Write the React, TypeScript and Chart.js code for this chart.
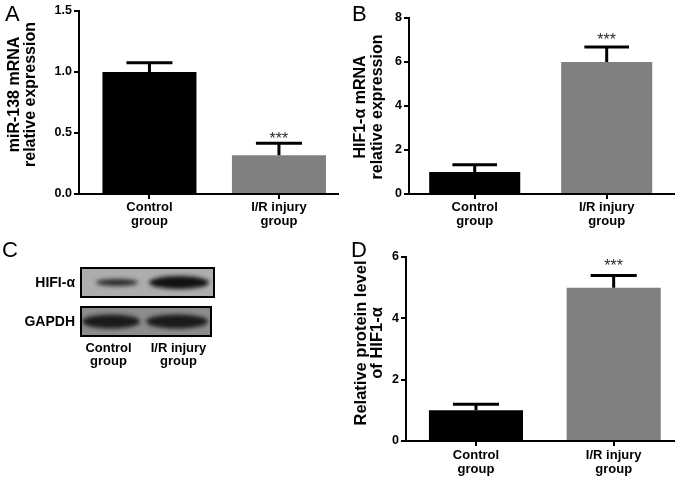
import React, { useEffect, useRef } from 'react';
import { Chart, registerables } from 'chart.js';

Chart.register(...registerables);

// ---------------- data ----------------
const categories: string[][] = [['Control', 'group'], ['I/R injury', 'group']];
const barColors = ['#000000', '#808080'];
const significance = ['', '***'];

// Panel A: miR-138 mRNA relative expression
const mirValues = [1.0, 0.317];
const mirErrors = [0.076, 0.1];
const mirTicks = [0, 0.5, 1.0, 1.5];

// Panel B: HIF1-α mRNA relative expression
const hifMrnaValues = [1.0, 6.0];
const hifMrnaErrors = [0.33, 0.68];
const hifMrnaTicks = [0, 2, 4, 6, 8];

// Panel D: relative protein level of HIF1-α
const proteinValues = [1.0, 5.0];
const proteinErrors = [0.2, 0.4];
const proteinTicks = [0, 2, 4, 6];

// Panel C: western blot rows
const blotRows = ['HIFI-α', 'GAPDH'];

const FONT = '"Liberation Sans", Arial, sans-serif';

// ---------------- plugins ----------------
const errorBarsPlugin = {
  id: 'errorBars',
  afterDatasetsDraw(chart: any, _args: any, opts: any) {
    const { ctx } = chart;
    const meta = chart.getDatasetMeta(0);
    const ys = chart.scales.y;
    ctx.save();
    meta.data.forEach((bar: any, i: number) => {
      const v = opts.values[i];
      const e = opts.errors[i];
      const top = ys.getPixelForValue(v);
      const end = ys.getPixelForValue(v + e);
      const w = bar.width * 0.49;
      ctx.strokeStyle = '#000';
      ctx.lineWidth = 3;
      ctx.lineCap = 'butt';
      ctx.beginPath();
      ctx.moveTo(bar.x, top);
      ctx.lineTo(bar.x, end);
      ctx.moveTo(bar.x - w / 2, end);
      ctx.lineTo(bar.x + w / 2, end);
      ctx.stroke();
      const lab = opts.labels[i];
      if (lab) {
        ctx.fillStyle = '#2b2b2b';
        ctx.font = `16px ${FONT}`;
        ctx.textAlign = 'center';
        ctx.textBaseline = 'alphabetic';
        ctx.fillText(lab, bar.x, end - opts.labelGap + 1);
      }
    });
    ctx.restore();
  },
};

const yTitlePlugin = {
  id: 'yTitle',
  afterDraw(chart: any, _args: any, opts: any) {
    const { ctx, chartArea } = chart;
    ctx.save();
    ctx.fillStyle = '#000';
    ctx.font = `bold ${opts.size}px ${FONT}`;
    ctx.textAlign = 'center';
    ctx.textBaseline = 'middle';
    opts.lines.forEach((line: string, i: number) => {
      ctx.save();
      ctx.translate(opts.x + i * opts.lineHeight, (chartArea.top + chartArea.bottom) / 2 + opts.dy);
      ctx.rotate(-Math.PI / 2);
      ctx.fillText(line, 0, 0);
      ctx.restore();
    });
    ctx.restore();
  },
};

interface PanelSpec {
  values: number[];
  errors: number[];
  ticks: number[];
  decimals: number;
  title: string[];
  titleX: number;
  titleDy: number;
  titleSize: number;
  yWidth: number;
  xHeight: number;
  padTop: number;
  padRight: number;
  xMin: number;
  xMax: number;
  barPct: number;
  labelGap: number;
  xLabelPad: number;
}

function makeConfig(p: PanelSpec): any {
  return {
    type: 'bar',
    data: {
      datasets: [
        {
          data: p.values.map((v, i) => ({ x: i, y: v })),
          backgroundColor: barColors,
          borderWidth: 0,
          barPercentage: p.barPct,
          categoryPercentage: 1,
        },
      ],
    },
    options: {
      responsive: false,
      animation: false,
      devicePixelRatio: 1,
      layout: { padding: { left: 0, top: p.padTop, right: p.padRight, bottom: 0 } },
      plugins: {
        legend: { display: false },
        tooltip: { enabled: false },
        errorBars: { values: p.values, errors: p.errors, labels: significance, labelGap: p.labelGap },
        yTitle: { lines: p.title, x: p.titleX, dy: p.titleDy, size: p.titleSize, lineHeight: 16.5 },
      },
      scales: {
        x: {
          type: 'linear',
          offset: false,
          min: p.xMin,
          max: p.xMax,
          afterBuildTicks: (s: any) => {
            s.ticks = categories.map((_, i) => ({ value: i }));
          },
          afterFit: (s: any) => {
            s.height = p.xHeight;
            s.paddingLeft = 0;
            s.paddingRight = 0;
          },
          border: { display: true, color: '#000', width: 2 },
          grid: { display: true, offset: false, drawOnChartArea: false, drawTicks: true, tickLength: 5, color: '#000', lineWidth: 2 },
          ticks: {
            color: '#000',
            font: { family: FONT, weight: 'bold', size: 13, lineHeight: 1.05 },
            padding: p.xLabelPad,
            maxRotation: 0,
            autoSkip: false,
            callback: (_v: any, i: number) => categories[i],
          },
        },
        y: {
          type: 'linear',
          min: p.ticks[0],
          max: p.ticks[p.ticks.length - 1],
          afterBuildTicks: (s: any) => {
            s.ticks = p.ticks.map((v) => ({ value: v }));
          },
          afterFit: (s: any) => {
            s.width = p.yWidth;
            s.paddingTop = 0;
            s.paddingBottom = 0;
          },
          border: { display: true, color: '#000', width: 2 },
          grid: { display: true, drawOnChartArea: false, drawTicks: true, tickLength: 5, color: '#000', lineWidth: 2 },
          ticks: {
            color: '#000',
            font: { family: FONT, weight: 'bold', size: 12.5 },
            padding: 2,
            callback: (v: any) => Number(v).toFixed(p.decimals),
          },
        },
      },
    },
    plugins: [errorBarsPlugin, yTitlePlugin],
  };
}

function BarPanel({ spec, left, top, width, height }: { spec: PanelSpec; left: number; top: number; width: number; height: number }) {
  const ref = useRef<HTMLCanvasElement>(null);
  useEffect(() => {
    if (!ref.current) return;
    const chart = new Chart(ref.current, makeConfig(spec));
    return () => chart.destroy();
  }, [spec]);
  return (
    <div style={{ position: 'absolute', left, top, width, height }}>
      <canvas ref={ref} width={width} height={height} style={{ width, height, display: 'block' }} />
    </div>
  );
}

function BlotPanel({ left, top, width, height }: { left: number; top: number; width: number; height: number }) {
  const ref = useRef<HTMLCanvasElement>(null);
  useEffect(() => {
    const c = ref.current;
    if (!c) return;
    const ctx = c.getContext('2d');
    if (!ctx) return;
    ctx.clearRect(0, 0, width, height);
    const boxes = [
      { x: 81, y: 28, w: 133, h: 29, bg: '#adadad', bands: [{ cx: 117, w: 42, h: 7, c: '#2a2a2a' }, { cx: 179, w: 60, h: 13, c: '#111' }] },
      { x: 81, y: 67, w: 130, h: 29, bg: '#8c8c8c', bands: [{ cx: 111, w: 58, h: 14, c: '#1a1a1a' }, { cx: 177, w: 62, h: 14, c: '#1a1a1a' }] },
    ];
    boxes.forEach((b, r) => {
      ctx.fillStyle = b.bg;
      ctx.fillRect(b.x, b.y, b.w, b.h);
      ctx.save();
      ctx.beginPath();
      ctx.rect(b.x, b.y, b.w, b.h);
      ctx.clip();
      ctx.filter = 'blur(2px)';
      b.bands.forEach((band) => {
        ctx.fillStyle = band.c;
        ctx.beginPath();
        ctx.ellipse(band.cx, b.y + b.h / 2, band.w / 2, band.h / 2, 0, 0, Math.PI * 2);
        ctx.fill();
      });
      ctx.restore();
      ctx.strokeStyle = '#000';
      ctx.lineWidth = 2;
      ctx.strokeRect(b.x, b.y, b.w, b.h);
      ctx.fillStyle = '#000';
      ctx.font = `bold 14px ${FONT}`;
      ctx.textAlign = 'right';
      ctx.textBaseline = 'middle';
      ctx.fillText(blotRows[r], 75, b.y + b.h / 2 + 1);
    });
    ctx.font = `bold 13px ${FONT}`;
    ctx.textAlign = 'center';
    ctx.textBaseline = 'alphabetic';
    const colX = [108.5, 178.5];
    categories.forEach((lines, i) => {
      lines.forEach((l, j) => ctx.fillText(l, colX[i], 112 + j * 12.5));
    });
  }, []);
  return (
    <div style={{ position: 'absolute', left, top, width, height }}>
      <canvas ref={ref} width={width} height={height} style={{ width, height, display: 'block' }} />
    </div>
  );
}

const specA: PanelSpec = {
  values: mirValues, errors: mirErrors, ticks: mirTicks, decimals: 1,
  title: ['miR-138 mRNA', 'relative expression'], titleX: 14.5, titleDy: -8, titleSize: 16,
  yWidth: 79, xHeight: 46, padTop: 11, padRight: 2,
  xMin: -0.544, xMax: 1.456, barPct: 0.726, labelGap: 0, xLabelPad: 2,
};
const specB: PanelSpec = {
  values: hifMrnaValues, errors: hifMrnaErrors, ticks: hifMrnaTicks, decimals: 0,
  title: ['HIF1-α mRNA', 'relative expression'], titleX: 21, titleDy: 1, titleSize: 16,
  yWidth: 69, xHeight: 46, padTop: 18, padRight: 3,
  xMin: -0.498, xMax: 1.51, barPct: 0.69, labelGap: 3.5, xLabelPad: 2,
};
const specD: PanelSpec = {
  values: proteinValues, errors: proteinErrors, ticks: proteinTicks, decimals: 0,
  title: ['Relative protein level', 'of HIF1-α'], titleX: 21, titleDy: -6, titleSize: 16.5,
  yWidth: 66, xHeight: 37, padTop: 17, padRight: 3,
  xMin: -0.508, xMax: 1.438, barPct: 0.683, labelGap: 5, xLabelPad: 3,
};

const letterStyle: React.CSSProperties = {
  position: 'absolute',
  font: `22px ${FONT}`,
  lineHeight: '22px',
  color: '#000',
};

export default function App() {
  return (
    <div style={{ position: 'absolute', left: 0, top: 0, width: 677, height: 478, background: '#fff', overflow: 'hidden' }}>
      <BarPanel spec={specA} left={0} top={0} width={340} height={240} />
      <BarPanel spec={specB} left={340} top={0} width={337} height={240} />
      <BlotPanel left={0} top={240} width={340} height={238} />
      <BarPanel spec={specD} left={340} top={240} width={337} height={238} />
      <div style={{ ...letterStyle, left: 5, top: 3 }}>A</div>
      <div style={{ ...letterStyle, left: 352, top: 3 }}>B</div>
      <div style={{ ...letterStyle, left: 2, top: 239 }}>C</div>
      <div style={{ ...letterStyle, left: 351, top: 239 }}>D</div>
    </div>
  );
}
